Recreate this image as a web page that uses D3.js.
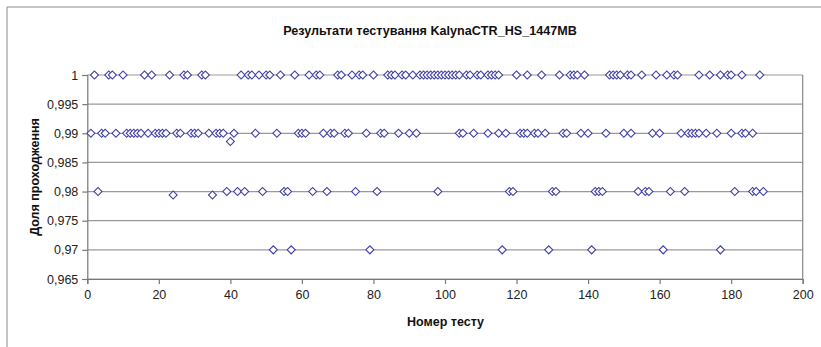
<!DOCTYPE html>
<html>
<head>
<meta charset="utf-8">
<script src="https://cdn.jsdelivr.net/npm/d3@7"></script>
<style>
  html, body { margin: 0; padding: 0; background: #fff; }
  text { font-family: "Liberation Sans", Arial, sans-serif; }
</style>
</head>
<body>
<div id="d3"></div>
<script>
// test numbers for each pass rate level
const testsAt1 = [2, 6, 7, 10, 16, 18, 23, 27, 28, 32, 33, 43, 45, 46, 48, 50, 51, 54, 58, 62, 64, 65,
  70, 71, 74, 76, 77, 80, 84, 85, 86, 88, 89, 91, 93, 94, 95, 96, 97, 98, 99, 100, 101, 102, 103, 104,
  106, 107, 109, 110, 112, 113, 114, 115, 120, 123, 127, 132, 135, 136, 137, 139, 146, 147, 148, 149,
  151, 152, 155, 159, 162, 164, 165, 171, 174, 177, 179, 180, 183, 188];
const testsAt099 = [1, 4, 5, 8, 11, 12, 13, 14, 15, 17, 19, 20, 21, 22, 25, 26, 29, 30, 31, 34, 36, 37,
  38, 41, 47, 53, 59, 60, 61, 66, 68, 69, 72, 73, 78, 82, 83, 87, 90, 92, 104, 105, 108, 112, 115, 117,
  121, 122, 123, 125, 126, 128, 133, 134, 138, 140, 145, 150, 152, 158, 160, 166, 168, 169, 170, 171,
  173, 176, 180, 183, 184, 186];
const testsAt098 = [3, 39, 42, 44, 49, 55, 56, 63, 67, 75, 81, 98, 118, 119, 130, 131, 142, 143, 144,
  154, 156, 157, 163, 167, 181, 186, 187, 189];
const testsAt097 = [52, 57, 79, 116, 129, 141, 161, 177];
// the few odd values between the levels
const otherTests = [24, 35, 40];
const otherRates = [0.9794, 0.9794, 0.9886];

const xTicks = [0, 20, 40, 60, 80, 100, 120, 140, 160, 180, 200];
const yTicks = [0.965, 0.97, 0.975, 0.98, 0.985, 0.99, 0.995, 1];

const points = [];
testsAt1.forEach((t) => points.push({ x: t, y: 1 }));
testsAt099.forEach((t) => points.push({ x: t, y: 0.99 }));
testsAt098.forEach((t) => points.push({ x: t, y: 0.98 }));
testsAt097.forEach((t) => points.push({ x: t, y: 0.97 }));
otherTests.forEach((t, i) => points.push({ x: t, y: otherRates[i] }));

function drawChart() {
  const width = 821;
  const height = 347;
  const left = 87.3, right = 802.7, top = 75, bottom = 279;

  const svg = d3
    .select("#d3")
    .append("svg")
    .attr("width", width)
    .attr("height", height);

  // outer chart frame (only top and left edges are visible)
  svg.append("path")
    .attr("d", `M7,347 L7,7 L821,7`)
    .attr("fill", "none")
    .attr("stroke", "#8c8c8c")
    .attr("stroke-width", 1);

  const x = d3.scaleLinear().domain([0, 200]).range([left, right]);
  const y = d3.scaleLinear().domain([0.965, 1]).range([bottom, top]);

  // gridlines
  svg.append("g")
    .selectAll("line")
    .data(yTicks)
    .join("line")
    .attr("x1", left)
    .attr("x2", right)
    .attr("y1", (d) => y(d))
    .attr("y2", (d) => y(d))
    .attr("stroke", "#999")
    .attr("stroke-width", 1.2);

  // right border of plot
  svg.append("line")
    .attr("x1", right).attr("x2", right)
    .attr("y1", top).attr("y2", bottom)
    .attr("stroke", "#888")
    .attr("stroke-width", 1.2);

  const fmt = (d) => String(+d.toFixed(3)).replace(".", ",");

  const yAxis = svg.append("g")
    .attr("transform", `translate(${left},0)`)
    .call(d3.axisLeft(y).tickValues(yTicks).tickFormat(fmt).tickSize(5).tickPadding(4));

  const xAxis = svg.append("g")
    .attr("transform", `translate(0,${bottom})`)
    .call(d3.axisBottom(x).tickValues(xTicks).tickFormat(d3.format("d")).tickSize(5).tickPadding(6));

  [xAxis, yAxis].forEach((g) => {
    g.select(".domain").attr("stroke", "#777").attr("stroke-width", 1.2);
    g.selectAll(".tick line").attr("stroke", "#777").attr("stroke-width", 1.2);
    g.selectAll(".tick text")
      .attr("fill", "#222")
      .attr("font-size", "12.5px")
      .attr("font-family", "Liberation Sans, Arial, sans-serif");
  });

  // markers: hollow diamonds
  const diamond = d3.symbol(d3.symbolSquare, 32);
  svg.append("g")
    .selectAll("path")
    .data(points)
    .join("path")
    .attr("d", diamond)
    .attr("transform", (d) => `translate(${x(d.x)},${y(d.y)}) rotate(45)`)
    .attr("fill", "#fff")
    .attr("stroke", "#4040aa")
    .attr("stroke-width", 1.1);

  svg.append("text")
    .attr("x", 430)
    .attr("y", 35)
    .attr("text-anchor", "middle")
    .attr("font-size", "12.6px")
    .attr("font-weight", "bold")
    .attr("fill", "#111")
    .text("Результати тестування KalynaCTR_HS_1447MB");

  svg.append("text")
    .attr("x", 445.5)
    .attr("y", 326)
    .attr("text-anchor", "middle")
    .attr("font-size", "12.5px")
    .attr("font-weight", "bold")
    .attr("fill", "#111")
    .text("Номер тесту");

  svg.append("text")
    .attr("transform", `translate(39,177) rotate(-90)`)
    .attr("text-anchor", "middle")
    .attr("font-size", "12.5px")
    .attr("font-weight", "bold")
    .attr("fill", "#111")
    .text("Доля проходження");
}

drawChart();
</script>
</body>
</html>
